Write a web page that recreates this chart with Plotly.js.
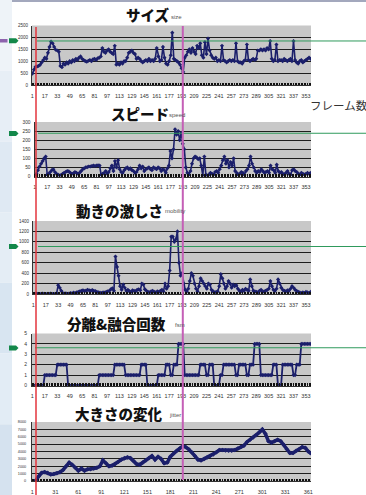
<!DOCTYPE html>
<html><head><meta charset="utf-8">
<script src="https://cdn.plot.ly/plotly-3.0.1.min.js"></script>
<style>html,body{margin:0;padding:0;background:#fff;}#chart{width:366px;height:495px;}</style>
</head><body><div id="chart"></div>
<script>
// ---------- DATA ----------
const titles = ["サイズ", "スピード", "動きの激しさ", "分離&融合回数", "大きさの変化"];
const subtitles = ["size", "speed", "mobility", "fsm", "jitter"];
const xAxisLabel = "フレーム数";

const frameTicks = [1,17,33,49,65,81,97,113,129,145,161,177,193,209,225,241,257,273,289,305,321,337,353];
const jitterTicks = [1,31,61,91,121,151,181,211,241,271,301,331,361];

const sizeVals = [
 480,650,760,780,800,850,950,1050,1150,1100,
 1350,1600,1820,1750,1600,1480,1450,1400,800,750,
 900,850,950,900,1000,950,1050,1000,1100,1050,
 1150,1200,1100,1050,1000,980,1020,1050,1000,1080,
 1100,1050,1120,1150,1200,1550,1400,1350,1450,1500,
 1400,1350,1300,1650,850,900,850,950,900,1000,
 1000,1150,1350,1400,1450,1350,1300,1100,1150,1100,
 1000,950,1000,1050,1000,1100,1000,1050,1000,1100,
 1550,1200,1000,1050,1600,1150,900,850,1000,1250,
 2200,1100,1050,1000,950,850,700,550,1150,1250,
 1400,1500,1350,1550,1400,1300,1650,1550,1750,1250,
 1150,1800,1300,1950,1450,1250,1150,1100,1150,1000,
 1050,1000,1650,1050,1000,950,1000,1050,1000,1050,
 1000,1750,1000,950,950,900,1000,1050,1700,1050,
 1000,1050,1100,1050,1100,1450,1450,1500,1450,1500,
 1450,1550,1500,1850,1100,1000,1050,1700,1000,1050,
 1050,1000,1100,1050,1000,1050,1100,1000,1850,1050,
 950,900,1000,1050,950,1000,1050,1100,1150,1100];

const speedVals = [
 0,15,35,55,70,85,100,110,10,15,
 25,35,40,25,15,10,5,8,15,20,
 25,30,28,20,15,18,25,20,15,20,
 30,40,45,50,52,55,55,58,60,58,
 60,62,60,10,15,20,30,15,25,45,
 60,30,85,50,90,40,25,20,35,45,
 50,40,45,35,30,20,25,40,60,45,
 55,30,40,45,50,40,35,50,45,40,
 50,45,30,40,35,20,45,60,140,100,
 150,260,230,250,200,240,180,150,50,20,
 10,30,70,100,110,105,95,100,60,5,
 110,10,5,10,20,15,10,25,30,20,
 40,60,90,110,70,90,50,80,60,100,
 30,20,10,15,25,20,10,30,40,60,
 110,70,50,30,20,30,25,40,30,20,
 25,30,20,60,40,35,20,65,30,20,
 25,15,10,20,30,15,10,35,40,30,
 25,15,10,20,15,10,15,20,15,20];

const mobilityVals = [
 0,5,10,5,0,5,10,5,0,5,
 5,10,5,0,5,10,170,120,60,20,
 10,15,5,10,20,15,25,20,30,40,
 50,60,70,55,65,80,70,60,75,60,
 55,40,30,25,20,30,25,40,50,60,
 90,110,60,720,520,350,150,80,180,120,
 60,80,50,40,70,60,50,80,90,70,
 200,180,90,60,40,30,50,60,40,30,
 50,40,60,80,50,200,100,150,450,1100,
 1100,1000,1050,1200,600,350,400,200,80,50,
 100,250,400,350,200,100,50,150,300,250,
 200,150,100,200,180,80,50,30,40,50,
 150,380,300,200,100,150,250,200,120,180,
 150,170,100,60,50,80,60,100,80,60,
 280,150,60,50,40,30,60,80,40,50,
 60,80,100,250,150,80,60,100,280,200,
 120,80,60,50,70,60,100,150,120,80,
 60,40,30,20,30,20,40,30,20,40];

const fsmVals = [
 0,0,0,0,0,0,0,0,1,1,
 1,1,1,1,1,1,2,2,2,2,
 2,2,2,0,0,0,0,0,0,0,
 0,0,0,0,0,0,0,0,0,0,
 0,0,0,1,1,1,1,1,1,1,
 1,1,1,2,2,2,2,2,2,2,
 1,1,1,1,1,1,1,1,1,1,
 2,2,2,2,0,0,0,0,0,0,
 0,1,1,1,1,1,2,2,2,1,
 1,2,2,2,4,4,4,4,1,1,
 1,1,1,1,1,1,1,1,2,2,
 2,2,1,1,2,2,2,0,0,0,
 0,1,1,2,2,2,2,2,2,2,
 2,1,1,2,2,2,2,2,1,1,
 2,2,2,4,4,4,4,1,1,1,
 1,1,1,1,1,2,2,2,0,0,
 0,2,2,2,2,2,2,2,1,1,
 2,2,2,4,4,4,4,4,4,4];

const jitterVals = [
 0,0,600,1100,1200,1100,900,950,1050,1200,
 1500,2000,2500,2200,1800,1400,1700,1400,1600,1600,
 1700,1800,2000,2800,2400,2000,2100,2300,2600,2900,
 3100,3200,3100,2700,2300,2200,2500,2800,3100,3400,
 2900,3300,3000,2400,2500,3300,3700,4100,4400,4700,
 4600,4300,3900,3400,2900,2800,3000,3200,3400,3600,
 3900,4200,4200,4150,4100,4100,4200,4400,4600,4800,
 5300,5600,5900,6200,6600,7000,6400,5400,5200,5400,
 5600,5400,4900,4300,3800,3800,4100,4300,4600,4500,
 4000,3700];

// threshold (green) levels
const thresholds = [1850, 238, 911, 3.63];

// frame indices (categories)
const frames = [];
for (let f = 1; f <= 359; f += 2) frames.push(f);
const jitterFrames = [];
for (let f = 1; f <= 365; f += 4) jitterFrames.push(f);

// ---------- LAYOUT HELPERS ----------
const W = 366, H = 495;
const px = x => x / W;
const py = y => 1 - y / H;

const navy = '#1b1f6b';
function lineTrace(x, y, ax, w, ms) {
  return {x: x, y: y, xaxis: 'x' + ax, yaxis: 'y' + ax, type: 'scatter', mode: 'lines+markers',
    line: {color: navy, width: w}, marker: {color: navy, size: ms, symbol: 'diamond'},
    hoverinfo: 'skip', showlegend: false};
}
const data = [
  lineTrace(frames, sizeVals, '', 1.6, 3.2),
  lineTrace(frames, speedVals, '2', 1.6, 3.2),
  lineTrace(frames, mobilityVals, '3', 1.6, 3.2),
  lineTrace(frames, fsmVals, '4', 1.8, 3.2),
  lineTrace(jitterFrames, jitterVals, '5', 3.5, 3.5)
];

function xAx(dom, anchor, range, tv) {
  return {domain: dom, anchor: anchor, range: range, tickmode: 'array', tickvals: tv,
    ticktext: tv.map(String), showgrid: false, zeroline: false, showline: true,
    linecolor: '#333', linewidth: 1, ticks: '', ticklabelstandoff: 5,
    tickfont: {family: 'Liberation Sans, Arial', size: 5.5, color: '#333'},
    minor: {tickmode: 'linear', tick0: 1, dtick: 2, ticks: 'inside', ticklen: 2.5, tickwidth: 1, tickcolor: '#111', showgrid: false},
    fixedrange: true};
}
function yAx(dom, anchor, range, dtick, fs, standoff) {
  return {domain: dom, anchor: anchor, range: range, dtick: dtick, tick0: 0, showgrid: true,
    gridcolor: '#1e1e1e', gridwidth: 1, zeroline: false, showline: true, linecolor: '#333',
    linewidth: 1, ticks: '', ticklabelstandoff: standoff,
    tickfont: {family: 'Liberation Sans, Arial', size: fs, color: '#333'}, fixedrange: true};
}

const topRange = [0.5, 359.5];
const layout = {
  width: W, height: H, autosize: false,
  margin: {l: 0, r: 0, t: 0, b: 0},
  paper_bgcolor: '#ffffff', plot_bgcolor: '#c8c8c8',
  showlegend: false,
  xaxis:  xAx([px(32), px(311)], 'y', topRange, frameTicks),
  yaxis:  yAx([py(85), py(25.5)], 'x', [0, 2500], 500, 4.5, 2),
  xaxis2: xAx([px(34.5), px(311)], 'y2', topRange, frameTicks),
  yaxis2: yAx([py(176.5), py(122)], 'x2', [0, 300], 50, 4.8, 2),
  xaxis3: xAx([px(33), px(311)], 'y3', topRange, frameTicks),
  yaxis3: yAx([py(294), py(221)], 'x3', [0, 1400], 200, 4.5, 2),
  xaxis4: xAx([px(32), px(311)], 'y4', topRange, frameTicks),
  yaxis4: yAx([py(385.5), py(333.5)], 'x4', [0, 5], 1, 5, 3),
  xaxis5: xAx([px(32), px(311)], 'y5', [0.5, 364.5], jitterTicks),
  yaxis5: yAx([py(481), py(422)], 'x5', [0, 8000], 1000, 3.8, 4),
  shapes: [],
  annotations: []
};

// left decorative strip
const stripCols = ['#eef3f8', '#e7eef6', '#dfe9f3', '#e4edf5', '#d8e5f1', '#e2ecf5', '#d5e2ef'];
stripCols.forEach((c, i) => {
  layout.shapes.push({type: 'rect', xref: 'paper', yref: 'paper', x0: 0, x1: px(12),
    y0: 1 - (i + 1) / stripCols.length, y1: 1 - i / stripCols.length, fillcolor: c, line: {width: 0}, layer: 'below'});
});
// top rule
layout.shapes.push({type: 'line', xref: 'paper', yref: 'paper', x0: px(12), x1: 1, y0: py(1), y1: py(1),
  line: {color: '#a3a8bd', width: 2}});

// green threshold lines
const gStart = [37, 38, 38, 35];
['y', 'y2', 'y3', 'y4'].forEach((yr, i) => {
  layout.shapes.push({type: 'line', xref: 'paper', yref: yr, x0: px(gStart[i]), x1: 1,
    y0: thresholds[i], y1: thresholds[i], line: {color: '#2f9a5c', width: 1}});
});
// green arrows at left
const arrowY = [40.8, 133.5, 246.5, 348];
arrowY.forEach(y => {
  const p = `M ${px(9)},${py(y - 2.5)} L ${px(16)},${py(y - 2.5)} L ${px(18.5)},${py(y)} L ${px(16)},${py(y + 2.5)} L ${px(9)},${py(y + 2.5)} Z`;
  layout.shapes.push({type: 'path', xref: 'paper', yref: 'paper', path: p, fillcolor: '#13884a', line: {width: 0}});
});
// purple marker
layout.shapes.push({type: 'rect', xref: 'paper', yref: 'paper', x0: 0, x1: px(7.5), y0: py(42.5), y1: py(39),
  fillcolor: '#8d63ad', line: {width: 0}});

// vertical red and magenta lines
layout.shapes.push({type: 'line', xref: 'paper', yref: 'paper', x0: px(36), x1: px(36), y0: py(27), y1: 0,
  line: {color: '#e3343c', width: 1.5}});
layout.shapes.push({type: 'line', xref: 'paper', yref: 'paper', x0: px(182.8), x1: px(182.8), y0: py(26), y1: py(480),
  line: {color: '#c45fb6', width: 2}});

// titles
const titlePos = [[147.5, 15], [140, 113], [119.5, 210], [116, 323], [119, 413]];
const subPos = [[169, 17], [167, 114.5], [162.5, 211], [173, 324.5], [167, 415]];
const jpFont = 'Noto Sans CJK JP, Noto Sans, sans-serif';
titles.forEach((t, i) => {
  layout.annotations.push({text: t, xref: 'paper', yref: 'paper',
    x: px(titlePos[i][0]), y: py(titlePos[i][1]), xanchor: 'center', yanchor: 'middle', showarrow: false,
    font: {family: jpFont, size: 14.5, color: '#111', weight: 900}});
  layout.annotations.push({text: subtitles[i], xref: 'paper', yref: 'paper',
    x: px(subPos[i][0]), y: py(subPos[i][1]), xanchor: 'left', yanchor: 'middle', showarrow: false,
    font: {family: 'Liberation Sans, Arial', size: 6, color: '#555'}});
});
layout.annotations.push({text: xAxisLabel, xref: 'paper', yref: 'paper', x: px(339), y: py(104.5),
  xanchor: 'center', yanchor: 'middle', showarrow: false, font: {family: jpFont, size: 11.5, color: '#333'}});

Plotly.newPlot('chart', data, layout, {staticPlot: true, displayModeBar: false});
</script></body></html>
